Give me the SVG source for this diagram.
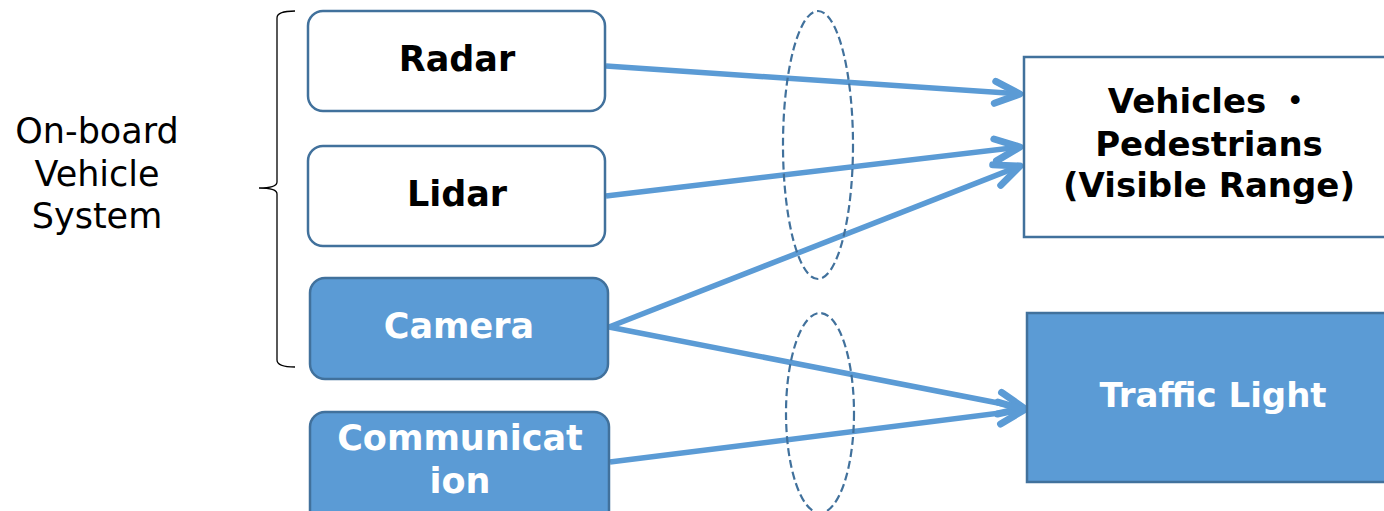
<svg xmlns="http://www.w3.org/2000/svg" width="1384" height="511" viewBox="0 0 1384 511">
  <style>
    .box-w { fill: #ffffff; stroke: #41719C; stroke-width: 2.5; }
    .box-b { fill: #5B9BD5; stroke: #41719C; stroke-width: 2.5; }
    .lbl { font-family: "DejaVu Sans", "Noto Sans CJK JP", sans-serif; font-weight: bold; font-size: 35px; text-anchor: middle; }
    .lbl-r { font-size: 34px; }
    .dark { fill: #000000; }
    .light { fill: #ffffff; }
    .side { font-family: "DejaVu Sans", sans-serif; font-size: 35px; text-anchor: middle; fill: #000000; }
    .link { stroke: #5B9BD5; stroke-width: 5.5; fill: none; marker-end: url(#open); }
    .scope { fill: none; stroke: #41719C; stroke-width: 2.2; stroke-dasharray: 8 4; }
  </style>
  <defs>
    <marker id="open" markerUnits="userSpaceOnUse" markerWidth="40" markerHeight="40" viewBox="-34 -18 40 36" refX="0" refY="0" orient="auto">
      <path d="M -25 -11 L 0 0 L -25 11" fill="none" stroke="#5B9BD5" stroke-width="7" stroke-linecap="round" stroke-linejoin="round"/>
    </marker>
  </defs>

  <rect width="1384" height="511" fill="#ffffff"/>

  <!-- group label and brace -->
  <g id="onboard-label">
    <text class="side" x="97" y="143">On-board</text>
    <text class="side" x="97" y="186">Vehicle</text>
    <text class="side" x="97" y="228">System</text>
  </g>
  <g id="brace">
    <path d="M 295 11 Q 277 11 277 18 L 277 182 Q 277 188 259 188 Q 277 188 277 194 L 277 360 Q 277 367 295 367" fill="none" stroke="#000000" stroke-width="1.3"/>
  </g>

  <!-- connectors -->
  <g id="connectors">
    <line class="link" x1="606" y1="66" x2="1020" y2="94"/>
    <line class="link" x1="606" y1="196" x2="1020" y2="147"/>
    <line class="link" x1="609" y1="327" x2="1020" y2="166"/>
    <line class="link" x1="609" y1="327" x2="1024" y2="408"/>
    <line class="link" x1="610" y1="462" x2="1024" y2="410"/>
  </g>

  <!-- dashed grouping ellipses -->
  <g id="scopes">
    <ellipse class="scope" cx="818" cy="145" rx="35" ry="134"/>
    <ellipse class="scope" cx="820" cy="413" rx="34" ry="100"/>
  </g>

  <g id="radar">
    <rect class="box-w" x="308" y="11" width="297" height="100" rx="15"/>
    <text class="lbl dark" x="457" y="71">Radar</text>
  </g>
  <g id="lidar">
    <rect class="box-w" x="308" y="146" width="297" height="100" rx="15"/>
    <text class="lbl dark" x="457" y="206">Lidar</text>
  </g>
  <g id="camera">
    <rect class="box-b" x="310" y="278" width="298" height="101" rx="15"/>
    <text class="lbl light" x="459" y="338">Camera</text>
  </g>
  <g id="communication">
    <rect class="box-b" x="310" y="412" width="299" height="115" rx="15"/>
    <text class="lbl light" x="460" y="450">Communicat</text>
    <text class="lbl light" x="460" y="493">ion</text>
  </g>

  <g id="vehicles-pedestrians">
    <rect class="box-w" x="1024" y="57" width="380" height="180"/>
    <text class="lbl lbl-r dark" x="1210" y="113">Vehicles ・</text>
    <text class="lbl lbl-r dark" x="1209" y="156">Pedestrians</text>
    <text class="lbl lbl-r dark" x="1209" y="197">(Visible Range)</text>
  </g>
  <g id="traffic-light">
    <rect class="box-b" x="1027" y="313" width="380" height="169"/>
    <text class="lbl lbl-r light" x="1213" y="407">Traffic Light</text>
  </g>
</svg>
